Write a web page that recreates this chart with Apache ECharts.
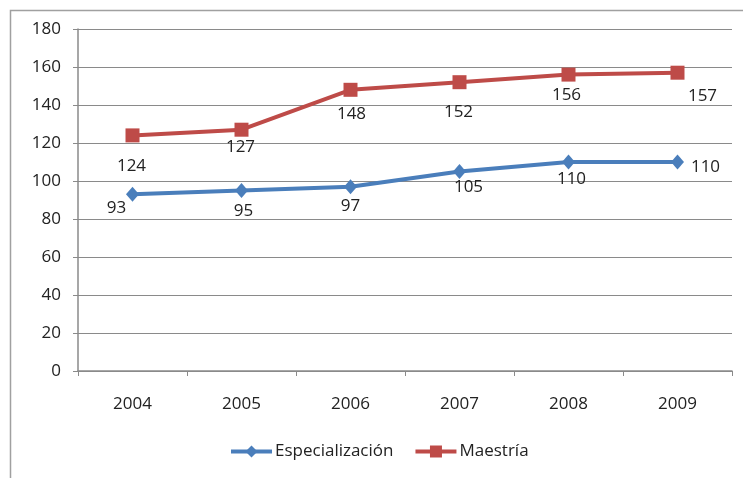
<!DOCTYPE html>
<html>
<head>
<meta charset="utf-8">
<script src="https://cdn.jsdelivr.net/npm/echarts@6/dist/echarts.min.js"></script>
<style>
html,body{margin:0;padding:0;background:#fff;}
#chart{width:743px;height:478px;}
</style>
</head>
<body>
<div id="chart"></div>
<script>
const years = ['2004','2005','2006','2007','2008','2009'];
const especializacion = [93, 95, 97, 105, 110, 110];
const maestria = [124, 127, 148, 152, 156, 157];
const yTicks = [0, 20, 40, 60, 80, 100, 120, 140, 160, 180];

// label placement offsets (style, not data)
const espOffsets = [[-16,14],[2,21],[0,19],[9,16],[3,17],[28,5]];
const maeOffsets = [[-1,31],[-1,17],[1,24],[-1,30],[-2,21],[25,23]];

const FONT = 'Open Sans';
const FS = 17;
const chart = echarts.init(document.getElementById('chart'), null, {renderer:'canvas'});

function mkData(vals, offs){
  return vals.map((v,i)=>({value:v, label:{show:true, position:'inside', offset:offs[i]}}));
}

chart.setOption({
  animation:false,
  backgroundColor:'#ffffff',
  textStyle:{fontFamily:FONT},
  graphic:[{
    type:'rect', left:8, top:8, silent:true,
    shape:{width:740, height:480},
    style:{fill:'none', stroke:'#a0a0a0', lineWidth:1.5}
  }],
  grid:{left:78, right:11, top:29, bottom:107, containLabel:false},
  legend:{
    bottom:13, left:224,
    itemWidth:41, itemHeight:15, itemGap:20,
    lineStyle:{width:4},
    textStyle:{fontFamily:FONT, fontSize:FS, color:'#222', padding:[0,0,0,-2]},
    data:['Especialización','Maestría']
  },
  xAxis:{
    type:'category', data:years, boundaryGap:true,
    axisLine:{lineStyle:{color:'#8a8a8a', width:1.5}},
    axisTick:{show:true, length:5, lineStyle:{color:'#8a8a8a'}},
    axisLabel:{fontFamily:FONT, fontSize:FS, color:'#222', margin:25}
  },
  yAxis:{
    type:'value', min:0, max:180, interval:20,
    axisLine:{show:true, lineStyle:{color:'#8a8a8a', width:1.5}},
    axisTick:{show:true, length:5, lineStyle:{color:'#8a8a8a'}},
    axisLabel:{fontFamily:FONT, fontSize:FS, color:'#222', margin:17,
      formatter:v=> yTicks.includes(v) ? String(v) : ''},
    splitLine:{show:true, lineStyle:{color:'#8a8a8a', width:1.2}}
  },
  series:[
    {
      name:'Especialización', type:'line', data:mkData(especializacion, espOffsets),
      symbol:'diamond', symbolSize:[13,15],
      lineStyle:{color:'#4a7ebb', width:4},
      itemStyle:{color:'#4a7ebb'},
      label:{show:true, fontFamily:FONT, fontSize:FS, color:'#222'}
    },
    {
      name:'Maestría', type:'line', data:mkData(maestria, maeOffsets),
      symbol:'rect', symbolSize:14,
      lineStyle:{color:'#be4b48', width:4},
      itemStyle:{color:'#be4b48'},
      label:{show:true, fontFamily:FONT, fontSize:FS, color:'#222'}
    }
  ]
});
</script>
</body>
</html>
